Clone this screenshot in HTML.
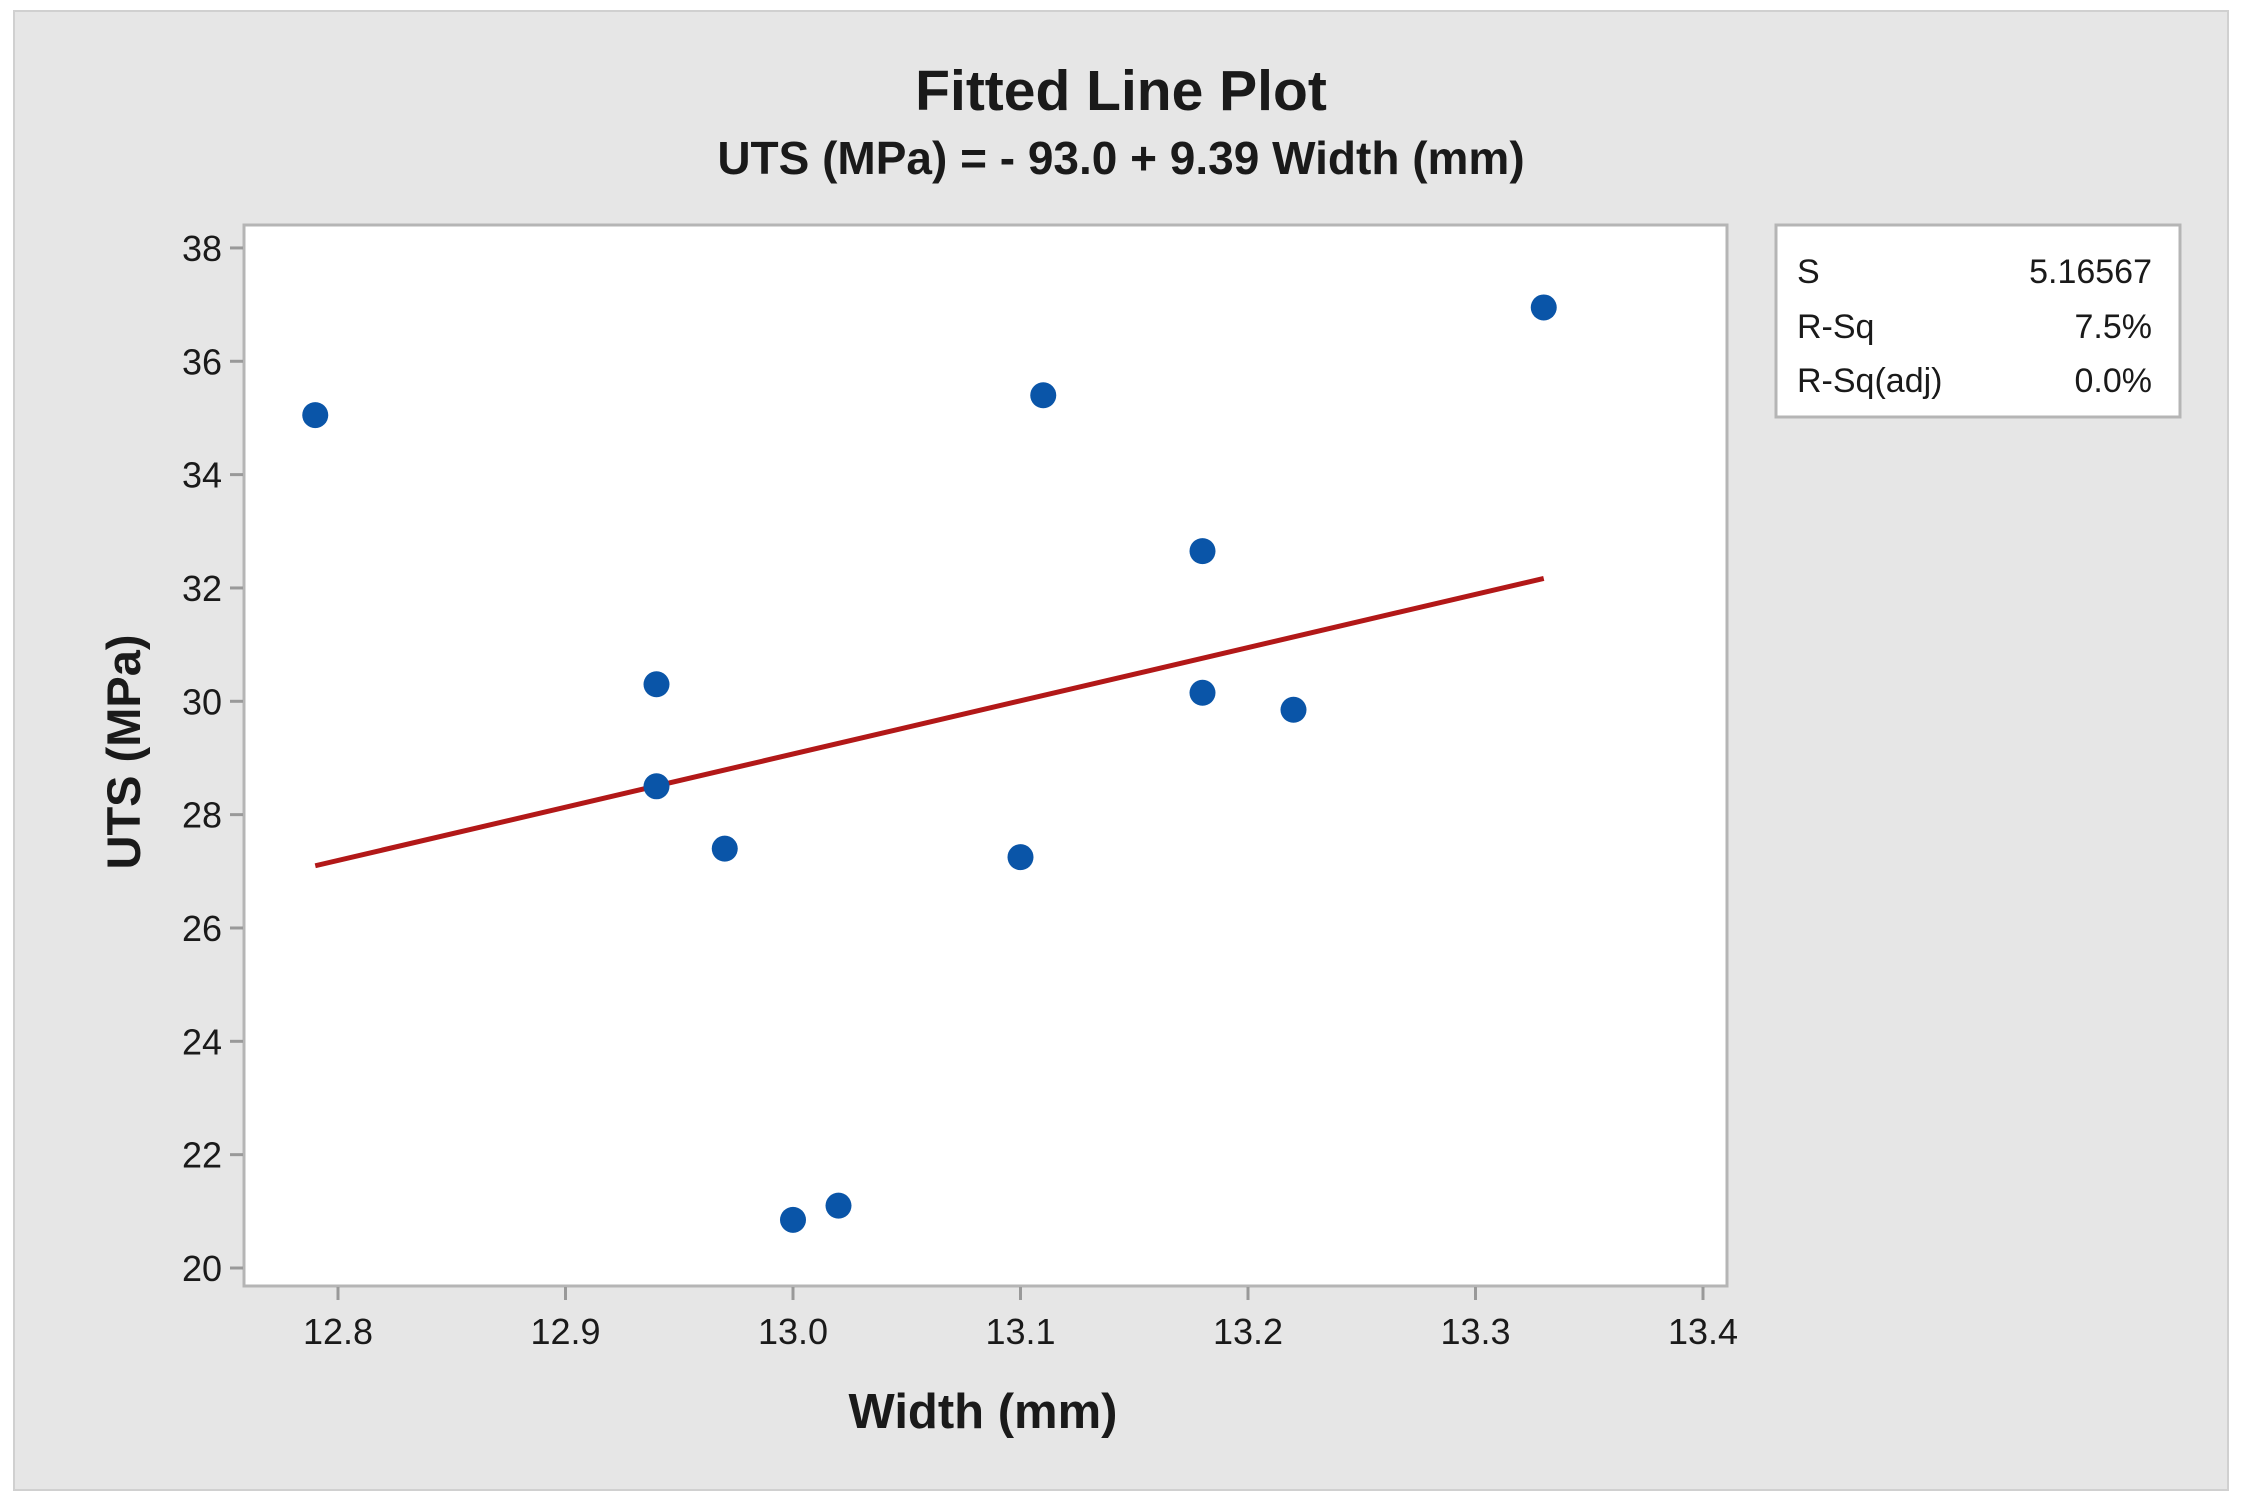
<!DOCTYPE html>
<html><head><meta charset="utf-8">
<style>
html,body{margin:0;padding:0;background:#fff;}
svg{display:block;font-family:"Liberation Sans",sans-serif;}
</style></head>
<body>
<svg id="chart" width="2245" height="1503" viewBox="0 0 2245 1503">
<rect x="14" y="11" width="2214" height="1479" fill="#e6e6e6" stroke="#d0d0d0" stroke-width="2"/>
<text x="1121" y="110" text-anchor="middle" font-size="57" font-weight="bold" fill="#1a1a1a">Fitted Line Plot</text>
<text x="1121" y="174" text-anchor="middle" font-size="46" font-weight="bold" fill="#1a1a1a">UTS (MPa) = - 93.0 + 9.39 Width (mm)</text>
<rect x="244" y="225" width="1483" height="1061" fill="#fff" stroke="#b5b5b5" stroke-width="3"/>
<g id="xaxis"></g>
<g id="yaxis"></g>
<g id="fit"></g>
<g id="pts"></g>
<text x="983" y="1428" text-anchor="middle" font-size="49" font-weight="bold" fill="#1a1a1a">Width (mm)</text>
<text transform="translate(140,752) rotate(-90)" text-anchor="middle" font-size="47" font-weight="bold" fill="#1a1a1a">UTS (MPa)</text>
<g>
<rect x="1776" y="225" width="404" height="192" fill="#fff" stroke="#b5b5b5" stroke-width="3"/>
<text x="1797" y="283" font-size="34" fill="#1a1a1a">S</text>
<text x="2152" y="283" font-size="34" fill="#1a1a1a" text-anchor="end">5.16567</text>
<text x="1797" y="338" font-size="34" fill="#1a1a1a">R-Sq</text>
<text x="2152" y="338" font-size="34" fill="#1a1a1a" text-anchor="end">7.5%</text>
<text x="1797" y="392" font-size="34" fill="#1a1a1a">R-Sq(adj)</text>
<text x="2152" y="392" font-size="34" fill="#1a1a1a" text-anchor="end">0.0%</text>
</g>
</svg>
<script>
const xTicks = [12.8, 12.9, 13.0, 13.1, 13.2, 13.3, 13.4];
const xTickLabels = ["12.8","12.9","13.0","13.1","13.2","13.3","13.4"];
const yTicks = [20,22,24,26,28,30,32,34,36,38];
const widths = [12.79, 12.94, 12.94, 12.97, 13.00, 13.02, 13.10, 13.11, 13.18, 13.18, 13.22, 13.33];
const uts = [35.05, 30.3, 28.5, 27.4, 20.85, 21.1, 27.25, 35.4, 32.65, 30.15, 29.85, 36.95];
const fitIntercept = -93.0;
const fitSlope = 9.39;

const NS = "http://www.w3.org/2000/svg";
function sx(v){ return 338 + (v - 12.8) * 2275; }
function sy(v){ return 1268 - (v - 20) * 56.67; }
function mk(tag, attrs, parent){ const e=document.createElementNS(NS,tag); for(const k in attrs) e.setAttribute(k,attrs[k]); parent.appendChild(e); return e; }

const xa = document.getElementById('xaxis');
xTicks.forEach((t,i)=>{
  const l = mk('line',{x1:sx(t),x2:sx(t),y1:1287,y2:1300,stroke:'#999','stroke-width':3},xa);
  
  
  const tx = mk('text',{x:sx(t),y:1344,'text-anchor':'middle','font-size':36,fill:'#1a1a1a'},xa);
  tx.textContent = xTickLabels[i];
  
  
});
const ya = document.getElementById('yaxis');
yTicks.forEach(t=>{
  const l = mk('line',{x1:230,x2:243,y1:sy(t),y2:sy(t),stroke:'#999','stroke-width':3},ya);
  
  
  const tx = mk('text',{x:222,y:sy(t)+13,'text-anchor':'end','font-size':36,fill:'#1a1a1a'},ya);
  tx.textContent = String(t);
  
  
});
const fg = document.getElementById('fit');
const xmin = Math.min(...widths), xmax = Math.max(...widths);
const fl = mk('line',{x1:sx(xmin),y1:sy(fitIntercept+fitSlope*xmin),x2:sx(xmax),y2:sy(fitIntercept+fitSlope*xmax),stroke:'#b21818','stroke-width':5},fg);


const pg = document.getElementById('pts');
widths.forEach((w,i)=>{
  const c = mk('circle',{cx:sx(w),cy:sy(uts[i]),r:13,fill:'#0a55a8'},pg);
  
  
});
</script>
</body></html>
